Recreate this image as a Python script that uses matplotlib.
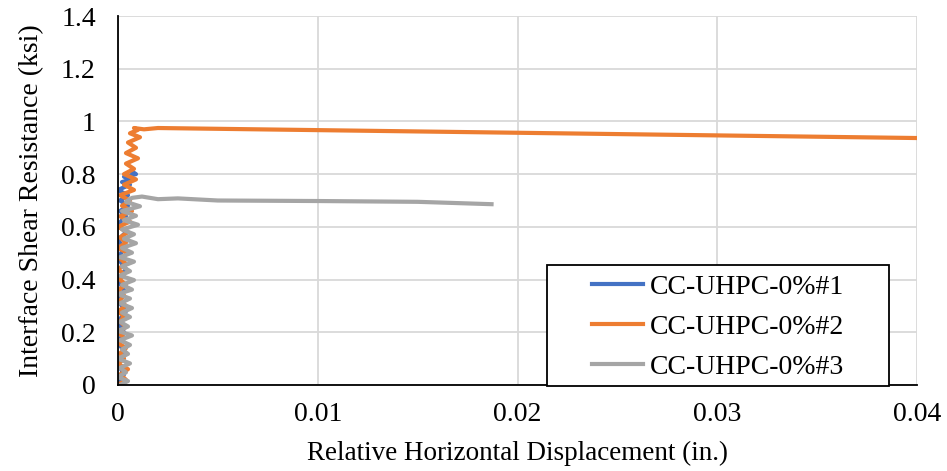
import matplotlib
matplotlib.use("Agg")
import matplotlib.pyplot as plt
from matplotlib import ticker
from matplotlib.patches import Rectangle

plt.rcParams["font.family"] = ["Liberation Serif", "DejaVu Serif"]

# --- data (in., ksi) ---
s1_x = [0.0000, 0.0003, 0.0000, 0.0004, 0.0000, 0.0003, 0.0000, 0.0004, 0.0000, 0.0003,
        0.0000, 0.0004, 0.0000, 0.0003, 0.0000, 0.0004, 0.0000, 0.0004, 0.0001, 0.0005,
        0.0001, 0.0005, 0.0000, 0.0006, 0.0002, 0.0007, 0.0003, 0.0009, 0.0007]
s1_y = [0.00, 0.04, 0.08, 0.12, 0.16, 0.20, 0.24, 0.28, 0.32, 0.36,
        0.40, 0.44, 0.48, 0.52, 0.55, 0.58, 0.61, 0.64, 0.66, 0.68,
        0.70, 0.72, 0.74, 0.76, 0.77, 0.78, 0.79, 0.80, 0.81]

s2_x = [0.0000, 0.0004, 0.0001, 0.0005, 0.0000, 0.0003, 0.0001, 0.0004, 0.0000, 0.0003,
        0.0000, 0.0004, 0.0001, 0.0003, 0.0000, 0.0004, 0.0001, 0.0003, 0.0000, 0.0004,
        0.0001, 0.0003, 0.0000, 0.0004, 0.0001, 0.0005, 0.0000, 0.0004, 0.0001, 0.0005,
        0.0000, 0.0006, 0.0001, 0.0007, 0.0002, 0.0006, 0.0001, 0.0008, 0.0003, 0.0009,
        0.0003, 0.0008, 0.0004, 0.0010, 0.0004, 0.0009, 0.0005, 0.0011, 0.0006, 0.0010,
        0.0008, 0.0013, 0.0020, 0.0400]
s2_y = [0.000, 0.020, 0.040, 0.060, 0.080, 0.100, 0.120, 0.140, 0.160, 0.180,
        0.200, 0.220, 0.240, 0.260, 0.280, 0.300, 0.320, 0.340, 0.360, 0.380,
        0.400, 0.420, 0.440, 0.460, 0.480, 0.500, 0.520, 0.540, 0.560, 0.580,
        0.600, 0.620, 0.640, 0.660, 0.680, 0.700, 0.720, 0.740, 0.760, 0.780,
        0.800, 0.820, 0.840, 0.860, 0.880, 0.900, 0.920, 0.940, 0.955, 0.968,
        0.975, 0.970, 0.975, 0.937]

s3_x = [0.0001, 0.0005, 0.0000, 0.0004, 0.0001, 0.0006, 0.0000, 0.0005, 0.0002, 0.0006,
        0.0001, 0.0007, 0.0000, 0.0005, 0.0001, 0.0006, 0.0002, 0.0007, 0.0001, 0.0006,
        0.0000, 0.0007, 0.0002, 0.0008, 0.0001, 0.0006, 0.0002, 0.0008, 0.0001, 0.0007,
        0.0002, 0.0009, 0.0003, 0.0008, 0.0002, 0.0010, 0.0003, 0.0009, 0.0002, 0.0011,
        0.0004, 0.0007,
        0.0012, 0.0020, 0.0030, 0.0050, 0.0100, 0.0150, 0.0187]
s3_y = [0.000, 0.015, 0.030, 0.048, 0.065, 0.082, 0.100, 0.118, 0.135, 0.152,
        0.170, 0.188, 0.205, 0.222, 0.240, 0.258, 0.275, 0.292, 0.310, 0.328,
        0.345, 0.362, 0.380, 0.398, 0.415, 0.432, 0.450, 0.468, 0.485, 0.502,
        0.520, 0.538, 0.555, 0.572, 0.590, 0.608, 0.625, 0.642, 0.660, 0.678,
        0.695, 0.710,
        0.715, 0.705, 0.708, 0.700, 0.698, 0.695, 0.686]

labels = ["CC-UHPC-0%#1", "CC-UHPC-0%#2", "CC-UHPC-0%#3"]
colors = ["#4472c4", "#ed7d31", "#a5a5a5"]

W, H = 947, 471
fig = plt.figure(figsize=(W / 100, H / 100), dpi=100)
ax = fig.add_axes([118 / W, 1 - 385 / H, 799 / W, 369 / H])

lines = []
for xs, ys, lab, c in zip([s1_x, s2_x, s3_x], [s1_y, s2_y, s3_y], labels, colors):
    ln, = ax.plot(xs, ys, color=c, lw=3, label=lab, solid_joinstyle="round")
    lines.append(ln)

ax.set_xlim(0, 0.04)
ax.set_ylim(0, 1.4)
ax.set_xticks([0, 0.01, 0.02, 0.03, 0.04])
ax.set_yticks([0, 0.2, 0.4, 0.6, 0.8, 1.0, 1.2, 1.4])
fmt = ticker.FuncFormatter(lambda v, p: f"{v:g}")
ax.xaxis.set_major_formatter(fmt)
ax.yaxis.set_major_formatter(fmt)
ax.tick_params(length=0, labelsize=20)
ax.tick_params(axis="y", pad=16)
ax.tick_params(axis="x", pad=12)
ax.grid(True, color="#d9d9d9", lw=1.3)
ax.set_axisbelow(True)
for sp in ["top", "right"]:
    ax.spines[sp].set_visible(False)
for sp in ["left", "bottom"]:
    ax.spines[sp].set_color("black")
    ax.spines[sp].set_linewidth(1.3)

ax.set_xlabel("Relative Horizontal Displacement (in.)", fontsize=19.5, labelpad=10)
ax.set_ylabel("Interface Shear Resistance (ksi)", fontsize=20, labelpad=12)

# Excel-style legend box (wide side padding), legend drawn on top of it
fig.patches.append(Rectangle((547 / W, 1 - 386 / H), 342 / W, 121 / H,
                             transform=fig.transFigure, facecolor="white",
                             edgecolor="black", lw=1.3, zorder=4))
leg = fig.legend(lines, labels, loc="center", bbox_to_anchor=(718 / W, 1 - 327 / H),
                 fontsize=20, frameon=False, handlelength=1.85, handletextpad=0.25,
                 labelspacing=0.52, borderpad=0)
leg.set_zorder(5)

fig.savefig("out.png", dpi=100)
